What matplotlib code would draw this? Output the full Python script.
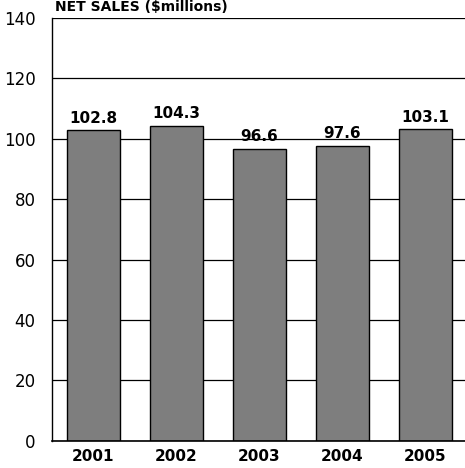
import matplotlib
matplotlib.use("Agg")
import matplotlib.pyplot as plt

years = ["2001", "2002", "2003", "2004", "2005"]
net_sales = [102.8, 104.3, 96.6, 97.6, 103.1]
value_labels = ["102.8", "104.3", "96.6", "97.6", "103.1"]
y_ticks = [0, 20, 40, 60, 80, 100, 120, 140]

fig = plt.figure(figsize=(4.65, 4.68), dpi=100)
ax = fig.add_axes([0.112, 0.058, 0.888, 0.904])

x = list(range(len(years)))
ax.set_axisbelow(True)
ax.yaxis.grid(True, color="black", linewidth=0.9)
ax.bar(x, net_sales, width=0.64, color="#7e7e7e", edgecolor="black", linewidth=1.0, zorder=2)

for xi, v, lab in zip(x, net_sales, value_labels):
    ax.text(xi, v + 1.5, lab, ha="center", va="bottom", fontsize=11, fontweight="bold")

ax.set_xlim(-0.494, 4.48)
ax.set_ylim(0, 140)
ax.set_yticks(y_ticks)
ax.set_yticklabels([str(t) for t in y_ticks], fontsize=12)
ax.set_xticks(x)
ax.set_xticklabels(years, fontsize=11, fontweight="bold")
ax.tick_params(axis="both", length=0, pad=6)
ax.tick_params(axis="y", pad=12)

for s in ["top", "right"]:
    ax.spines[s].set_visible(False)
ax.spines["left"].set_linewidth(1.0)
ax.spines["bottom"].set_linewidth(1.2)

fig.text(0.118, 0.999, "NET SALES ($millions)", ha="left", va="top", fontsize=10, fontweight="bold")

fig.savefig("out.png", dpi=100)
